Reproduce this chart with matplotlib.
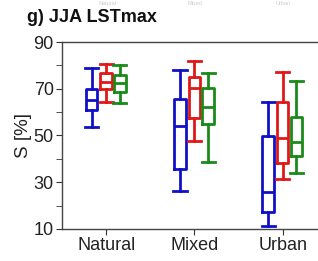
import matplotlib
matplotlib.use('Agg')
import matplotlib.pyplot as plt
import numpy as np

plt.rcParams['font.family'] = ['Liberation Sans', 'DejaVu Sans']

# ---------------------------------------------------------------------------
# Data: whisker low, q1, median, q3, whisker high
# ---------------------------------------------------------------------------
categories = ['Natural', 'Mixed', 'Urban']
colors = ['#1010c8', '#e01818', '#1a8a1a']

whislo = [[53.8, 26.3, 11.3],
          [64.5, 47.8, 31.4],
          [64.0, 38.7, 33.8]]
q1 = [[60.9, 35.8, 17.4],
      [69.8, 57.5, 38.4],
      [68.8, 54.8, 41.4]]
med = [[65.3, 54.0, 26.0],
       [72.8, 70.2, 49.1],
       [72.3, 62.0, 47.4]]
q3 = [[70.0, 65.6, 49.8],
      [76.6, 75.2, 64.3],
      [75.9, 70.2, 57.8]]
whishi = [[78.9, 78.0, 64.3],
          [80.5, 81.9, 77.0],
          [80.0, 76.6, 73.5]]

offsets = [-0.165, 0.0, 0.155]

fig = plt.figure(figsize=(3.18, 2.61), dpi=100)
ax = fig.add_axes([0.195, 0.123, 0.833, 0.716])

x = np.arange(1, len(categories) + 1)
for s in range(3):
    stats = []
    for i in range(len(categories)):
        stats.append({'whislo': whislo[s][i], 'q1': q1[s][i], 'med': med[s][i],
                      'q3': q3[s][i], 'whishi': whishi[s][i], 'fliers': []})
    c = colors[s]
    ax.bxp(stats, positions=x + offsets[s], widths=0.13, showfliers=False,
           boxprops=dict(color=c, lw=2),
           whiskerprops=dict(color=c, lw=2),
           capprops=dict(color=c, lw=2),
           medianprops=dict(color=c, lw=2),
           capwidths=0.15, manage_ticks=False)

ax.set_xlim(0.5, 3.5)
ax.set_ylim(10, 90)
ax.set_xticks(x)
ax.set_xticklabels(categories, fontsize=13)
ax.set_yticks([10, 30, 50, 70, 90])
ax.set_yticks([20, 40, 60, 80], minor=True)
ax.tick_params(axis='y', labelsize=13, length=4, colors='#333333',
               labelcolor='#222222', pad=2)
ax.tick_params(axis='y', which='minor', length=4, colors='#333333')
ax.tick_params(axis='x', length=4, colors='#333333', labelcolor='#222222', pad=2)
for sp in ax.spines.values():
    sp.set_color('#444444')
    sp.set_linewidth(1.0)
ax.set_ylabel('S [%]', fontsize=13.5, color='#222222', labelpad=1)

fig.text(0.085, 0.933, 'g) JJA LSTmax', fontsize=13, fontweight='bold',
         ha='left', va='center', color='#111111')

# tick labels of the panel above, mostly cut off by the crop
for lbl, xp in zip(categories, [107, 195, 283]):
    fig.text(xp / 318, 0.998, lbl, fontsize=4, ha='center',
             va='top', color='#cccccc')

fig.savefig('out.png', dpi=100)
